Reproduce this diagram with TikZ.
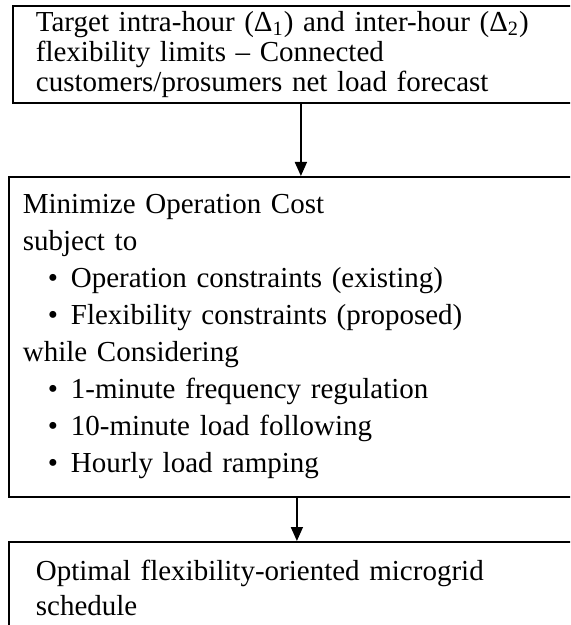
\documentclass[tikz,border=0pt]{standalone}
\usepackage{fontspec}
\setmainfont{Liberation Serif}
\usetikzlibrary{arrows.meta}

\newcommand{\itembullet}{\hspace*{12.5pt}\makebox[11.5pt][l]{\textbullet}}

\begin{document}
\begin{tikzpicture}[x=0.5pt, y=-0.5pt,
    stagebox/.style={draw, line width=0.9pt, anchor=north west, align=left, inner ysep=0pt},
    flow/.style={line width=0.8pt, -{Triangle[width=6pt, length=7pt]}}]
                        \useasboundingbox (0,0) rectangle (570,625);
                        \clip (0,0) rectangle (570,625);

                        \node[stagebox, inner xsep=11.5pt, text width=265pt, minimum height=48.5pt,
                              font=\fontsize{14.5}{15}\selectfont] (target) at (12,5)
                            {Target intra-hour (Δ\textsubscript{1}) and inter-hour (Δ\textsubscript{2})\\
                             flexibility limits – Connected\\
                             customers/prosumers net load forecast};

                        \node[stagebox, inner xsep=7pt, text width=274pt, minimum height=160pt,
                              font=\fontsize{14.5}{18.5}\selectfont] (optim) at (8,176)
                            {Minimize Operation Cost\\
                             subject to\\
                             \itembullet Operation constraints (existing)\\
                             \itembullet Flexibility constraints (proposed)\\
                             while Considering\\
                             \itembullet 1-minute frequency regulation\\
                             \itembullet 10-minute load following\\
                             \itembullet Hourly load ramping};

                        \node[stagebox, inner xsep=13.5pt, text width=261pt, minimum height=46.5pt,
                              font=\fontsize{14.5}{17.5}\selectfont] (sched) at (8,541)
                            {Optimal flexibility-oriented microgrid\\
                             schedule};

                        \draw[flow] (target.south) -- (target.south |- optim.north);
                        \draw[flow] (optim.south) -- (sched.north);
                    \end{tikzpicture}
\end{document}
